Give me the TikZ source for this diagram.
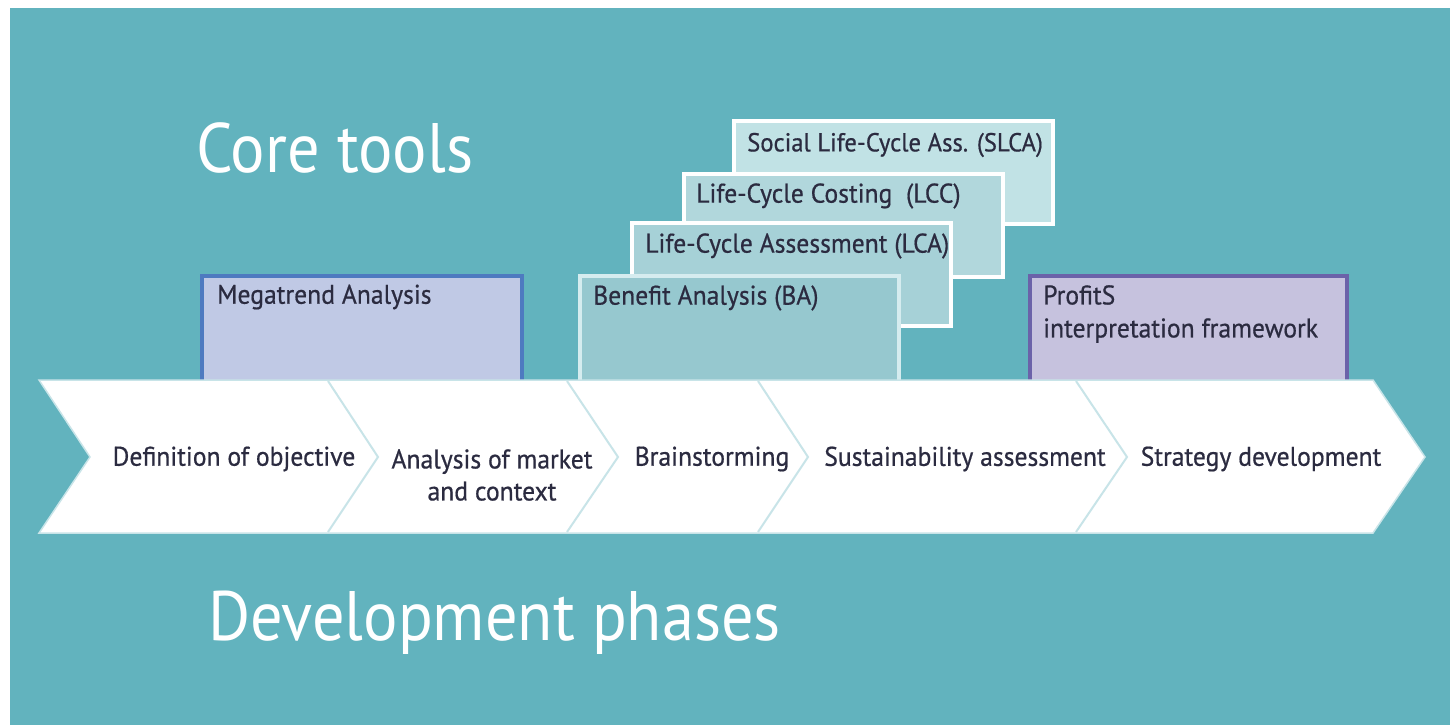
\documentclass[tikz,border=0pt]{standalone}
\usepackage{fontspec}
\setmainfont{PT Sans}[FakeStretch=0.92]
\newfontfamily\lblfont{PT Sans}[FakeStretch=0.95,FakeBold=0.6]
\usepackage{xcolor}
\definecolor{bgteal}{HTML}{62B3BE}
\definecolor{inkdark}{HTML}{2B2B40}
\definecolor{megafill}{HTML}{C0C9E5}
\definecolor{megaline}{HTML}{4E7AC0}
\definecolor{proffill}{HTML}{C6C2DE}
\definecolor{profline}{HTML}{6B62A9}
\definecolor{bafill}{HTML}{96C8CF}
\definecolor{baline}{HTML}{D5ECEF}
\definecolor{lcafill}{HTML}{A6D1D7}
\definecolor{lccfill}{HTML}{B1D7DC}
\definecolor{slcafill}{HTML}{C1E2E5}
\definecolor{sepline}{HTML}{C8E4E8}

\begin{document}
\begin{tikzpicture}[x=1pt,y=-1pt,
    tb/.style={draw,rectangle,line width=4pt,anchor=north west,minimum width=319pt,minimum height=103pt,inner sep=0pt},
    lb/.style={anchor=west,inner sep=0pt,text=inkdark,font=\lblfont\fontsize{27}{33}\selectfont},
    ph/.style={align=center,inner sep=0pt,text=inkdark,font=\lblfont\fontsize{27}{32}\selectfont},
    hd/.style={anchor=base west,inner sep=0pt,text=white,font=\fontsize{70}{84}\selectfont}]
                \useasboundingbox (0,0) rectangle (1450,725);
                \fill[bgteal] (10,8) rectangle (1450,725);
                \node[hd] (core) at (196,172) {Core tools};
                \node[hd] (devel) at (208,640) {Development phases};
                \node[tb,fill=slcafill,draw=white] (slca) at (732,119) {};
                \node[lb,font=\lblfont\fontsize{26}{32}\selectfont] at ([xshift=15pt,yshift=-26pt]slca.north west) {Social Life-Cycle Ass. (SLCA)};
                \node[tb,fill=lccfill,draw=white] (lcc) at (682,172) {};
                \node[lb] at ([xshift=14pt,yshift=-24pt]lcc.north west) {Life-Cycle Costing\ \ (LCC)};
                \node[tb,fill=lcafill,draw=white] (lca) at (630,221) {};
                \node[lb] at ([xshift=15pt,yshift=-25pt]lca.north west) {Life-Cycle Assessment (LCA)};
                \node[tb,fill=bafill,draw=baline,minimum height=140pt] (ba) at (578,274) {};
                \node[lb] at ([xshift=15pt,yshift=-24pt]ba.north west) {Benefit Analysis (BA)};
                \node[tb,fill=megafill,draw=megaline,minimum width=320pt,minimum height=140pt] (mega) at (200,274) {};
                \node[lb] at ([xshift=17pt,yshift=-23pt]mega.north west) {Megatrend Analysis};
                \node[tb,fill=proffill,draw=profline,minimum width=317pt,minimum height=140pt] (prof) at (1028,274) {};
                \node[lb,anchor=north west,align=left] at ([xshift=15pt,yshift=-11pt]prof.north west) {ProfitS\\interpretation framework};
                \filldraw[fill=white,draw=sepline,line width=1.5pt]
                    (39,380) -- (1373,380) -- (1425,457) -- (1373,533) -- (39,533) -- (90,457) -- cycle;
                \draw[sepline,line width=2pt] (328,381) -- (378,457) -- (328,532);
                \draw[sepline,line width=2pt] (567,381) -- (618,457) -- (567,532);
                \draw[sepline,line width=2pt] (758,381) -- (808,457) -- (758,532);
                \draw[sepline,line width=2pt] (1076,381) -- (1127,457) -- (1076,532);
                \node[ph] (p1) at (234,459) {Definition of objective};
                \node[ph] (p2) at (492,475) {Analysis of market\\and context};
                \node[ph] (p3) at (712,459) {Brainstorming};
                \node[ph] (p4) at (965,459) {Sustainability assessment};
                \node[ph] (p5) at (1261,459) {Strategy development};
                \end{tikzpicture}
\end{document}
